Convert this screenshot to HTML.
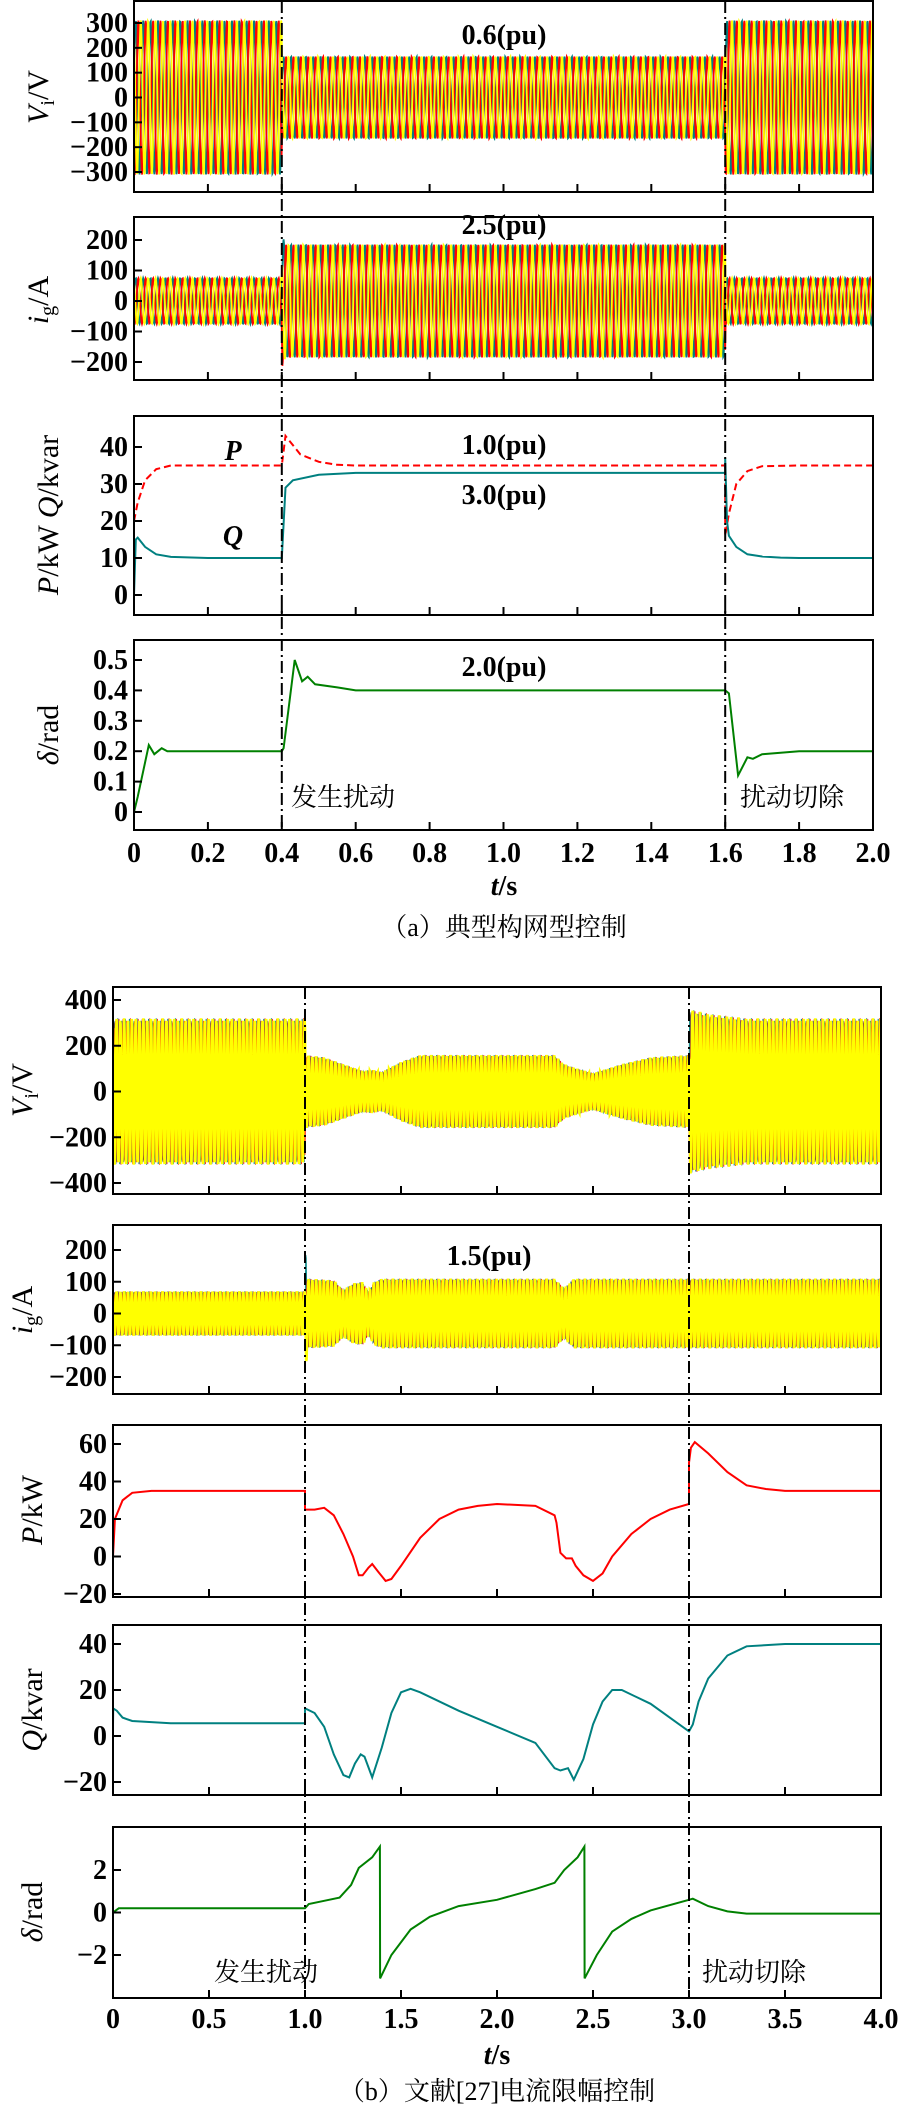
<!DOCTYPE html>
<html><head><meta charset="utf-8">
<style>
body{margin:0;background:#fff}
svg{display:block}
text{font-family:"Liberation Serif","Noto Serif CJK SC",serif;fill:#000}
.tk{font-size:28px;font-weight:bold}
.cn{font-family:"Liberation Serif","Noto Serif CJK SC",serif;font-size:26px}
</style></head><body>
<svg id="c" width="902" height="2107" viewBox="0 0 902 2107"></svg>
<script>
// ---- data (a) ----
const aViT=[0,0.4,0.4,1.6,1.6,2.0];
const aViA=[310,310,165,165,310,310];
const aIgT=[0,0.4,0.401,0.41,1.6,1.6,2.0];
const aIgA=[75,75,215,185,185,75,75];
const aPT=[0,0.01,0.03,0.06,0.1,0.4,0.4,0.41,0.45,0.5,0.55,0.6,1.6,1.6,1.61,1.63,1.66,1.7,1.8,2.0];
const aPV=[20,25,31,34,35,35,35,43,38,36,35.2,35,35,16,22,30,33.5,34.8,35,35];
const aQT=[0,0.005,0.01,0.03,0.06,0.1,0.2,0.4,0.4,0.41,0.43,0.5,0.6,1.6,1.6,1.605,1.61,1.63,1.66,1.7,1.75,1.8,2.0];
const aQV=[0,15,15.5,13,11,10.3,10,10,10,29,31,32.5,33,33,37,20,16,13,11,10.4,10.1,10,10];
const aDT=[0,0.01,0.04,0.055,0.075,0.09,0.4,0.405,0.435,0.455,0.47,0.49,0.55,0.6,1.6,1.61,1.635,1.66,1.675,1.7,1.8,2.0];
const aDV=[0,0.05,0.22,0.19,0.21,0.2,0.2,0.21,0.5,0.43,0.445,0.42,0.41,0.4,0.4,0.39,0.12,0.18,0.175,0.19,0.2,0.2];
// ---- data (b) ----
const bViT=[0,1.0,1.0,1.1,1.2,1.3,1.35,1.4,1.5,1.6,2.3,2.35,2.4,2.5,2.65,2.8,3.0,3.0,3.1,3.3,4.0];
const bViA=[320,320,160,150,120,90,95,85,130,160,160,120,105,80,120,150,160,360,340,320,320];
const bIgT=[0,1.0,1.0,1.005,1.01,1.15,1.2,1.25,1.3,1.33,1.36,1.4,2.3,2.35,2.4,3.0,4.0];
const bIgA=[70,70,70,215,110,105,75,95,100,70,100,110,110,80,110,110,110];
const bPT=[0,0.01,0.05,0.1,0.2,1.0,1.0,1.05,1.1,1.15,1.2,1.25,1.28,1.3,1.33,1.35,1.38,1.42,1.45,1.5,1.6,1.7,1.8,1.9,2.0,2.2,2.3,2.31,2.33,2.36,2.39,2.41,2.45,2.5,2.55,2.6,2.7,2.8,2.9,3.0,3.0,3.01,3.03,3.1,3.2,3.3,3.4,3.5,4.0];
const bPV=[0,20,30,34,35,35,25,25,26,22,12,0,-10,-10,-6,-4,-8,-13,-12,-5,10,20,25,27,28,27,22,18,2,-1,-1,-5,-10,-13,-9,0,12,20,25,28,50,58,61,55,45,38,36,35,35];
const bQT=[0,0.001,0.02,0.05,0.1,0.3,1.0,1.0,1.05,1.1,1.15,1.2,1.23,1.26,1.29,1.31,1.35,1.4,1.45,1.5,1.55,1.6,1.8,2.0,2.2,2.3,2.33,2.37,2.4,2.45,2.5,2.55,2.6,2.65,2.8,3.0,3.02,3.05,3.1,3.2,3.3,3.5,4.0];
const bQV=[5,12,11,8,6.5,5.5,5.5,12,10,4,-8,-17,-18,-12,-8,-9,-18,-5,10,19,20.5,19,11,4,-3,-14,-15,-14,-19,-10,5,15,20,20,14,2,5,15,25,35,39,40,40];
const bDT=[0,0.03,1.0,1.02,1.1,1.18,1.24,1.28,1.35,1.39,1.391,1.45,1.55,1.65,1.8,2.0,2.2,2.3,2.35,2.42,2.455,2.456,2.52,2.6,2.7,2.8,3.0,3.02,3.1,3.2,3.3,4.0];
const bDV=[0,0.2,0.2,0.4,0.55,0.7,1.3,2.1,2.6,3.1,-3.1,-2.0,-0.8,-0.2,0.3,0.6,1.1,1.4,2.0,2.6,3.1,-3.1,-2.0,-0.9,-0.3,0.1,0.6,0.65,0.3,0.05,-0.05,-0.05];
const aXTicks=["0","0.2","0.4","0.6","0.8","1.0","1.2","1.4","1.6","1.8","2.0"];
const bXTicks=["0","0.5","1.0","1.5","2.0","2.5","3.0","3.5","4.0"];

const svg=document.getElementById('c');
const NS='http://www.w3.org/2000/svg';
function mk(tag,at,parent){const e=document.createElementNS(NS,tag);for(const k in at)e.setAttribute(k,at[k]);(parent||svg).appendChild(e);return e;}
function interp(T,V,t){if(t<=T[0])return V[0];for(let i=1;i<T.length;i++){if(t<=T[i]){const d=T[i]-T[i-1];return d<=0?V[i]:V[i-1]+(V[i]-V[i-1])*(t-T[i-1])/d;}}return V[V.length-1];}

function panel(o){
  const g=mk('g',{});
  
  
  const X=t=>o.x0+(t-o.tmin)/(o.tmax-o.tmin)*(o.x1-o.x0);
  const Y=v=>o.yA+(v-o.vA)/(o.vB-o.vA)*(o.yB-o.yA);
  o.X=X;o.Y=Y;
  const clip='cl'+o.name;
  const cp=mk('clipPath',{id:clip},g);mk('rect',{x:o.x0,y:o.top,width:o.x1-o.x0,height:o.bot-o.top},cp);
  const dg=mk('g',{'clip-path':'url(#'+clip+')'},g);
  if(o.wave){
    const cols=o.cols;
    const ph=[0,-2*Math.PI/3,2*Math.PI/3];
    cols.forEach((c,k)=>{
      let d='';
      for(let px=o.x0;px<=o.x1;px+=0.4){
        const t=o.tmin+(px-o.x0)/(o.x1-o.x0)*(o.tmax-o.tmin);
        const a=interp(o.wave[0],o.wave[1],t);
        d+=(d?'L':'M')+px.toFixed(1)+' '+Y(a*Math.sin(2*Math.PI*50*t+ph[c.p])).toFixed(1);
      }
      const p=mk('path',{d:d,fill:'none',stroke:c.c,'stroke-width':c.w},dg);
      
      
    });
  }
  (o.lines||[]).forEach(L=>{
    const d=L.T.map((t,i)=>(i?'L':'M')+X(t).toFixed(1)+' '+Y(L.V[i]).toFixed(1)).join('');
    const p=mk('path',{d:d,fill:'none',stroke:L.c,'stroke-width':2,'stroke-dasharray':L.dash||'none'},dg);
    
    
  });
  mk('rect',{x:o.x0,y:o.top,width:o.x1-o.x0,height:o.bot-o.top,fill:'none',stroke:'#000','stroke-width':2},g);
  o.yt.forEach(v=>{
    mk('line',{x1:o.x0,x2:o.x0+8,y1:Y(v),y2:Y(v),stroke:'#000','stroke-width':2},g);
    const tx=mk('text',{x:o.x0-6,y:Y(v)+9,'text-anchor':'end',class:'tk'},g);
    tx.textContent=String(v).replace('-','\u2212');
    
    
  });
  o.xt.forEach(lbl=>{
    const t=parseFloat(lbl);
    mk('line',{x1:X(t),x2:X(t),y1:o.bot,y2:o.bot-8,stroke:'#000','stroke-width':2},g);
  });
  return o;
}
function vlines(ts,X,y0,y1){ts.forEach(t=>{const l=mk('line',{x1:X(t),x2:X(t),y1:y0,y2:y1,stroke:'#000','stroke-width':2,'stroke-dasharray':'12 4 2 4'});});}
function txt(s,x,y,cls,extra){const t=mk('text',Object.assign({x:x,y:y,class:cls||'tk'},extra||{}));t.innerHTML=s;return t;}
function ytitle(s,x,y){const t=mk('text',{x:0,y:0,transform:`translate(${x},${y}) rotate(-90)`,'text-anchor':'middle',style:'font-size:30px'});t.innerHTML=s;}

const aC=[{c:'#008080',p:0,w:1.8},{c:'#ff0000',p:1,w:1.8},{c:'#ffff00',p:2,w:1.8}];
const bC=[{c:'#008080',p:0,w:1},{c:'#ff0000',p:1,w:0.8},{c:'#ffff00',p:2,w:2.6}];
const A={x0:134,x1:873,tmin:0,tmax:2};
const a1=panel(Object.assign({name:'a-vi-panel',top:1,bot:192,yA:23,vA:300,yB:172,vB:-300,yt:[300,200,100,0,-100,-200,-300],xt:aXTicks,wave:[aViT,aViA],cols:aC},A));
const a2=panel(Object.assign({name:'a-ig-panel',top:217,bot:380,yA:240,vA:200,yB:362,vB:-200,yt:[200,100,0,-100,-200],xt:aXTicks,wave:[aIgT,aIgA],cols:aC},A));
const a3=panel(Object.assign({name:'a-pq-panel',top:416,bot:615,yA:447,vA:40,yB:595,vB:0,yt:[40,30,20,10,0],xt:aXTicks,lines:[{T:aPT,V:aPV,c:'#ff0000',dash:'7 4',name:'p-line'},{T:aQT,V:aQV,c:'#008080',name:'q-line'}]},A));
const a4=panel(Object.assign({name:'a-delta-panel',top:640,bot:830,yA:660,vA:0.5,yB:812,vB:0,yt:[0.5,0.4,0.3,0.2,0.1,0],xt:aXTicks,lines:[{T:aDT,V:aDV,c:'#008000',name:'delta-line'}]},A));
vlines([0.4,1.6],a1.X,1,830);
aXTicks.forEach(l=>txt(l,a1.X(parseFloat(l)),862,'tk',{'text-anchor':'middle'}));
txt('<tspan font-style="italic">t</tspan>/s',504,895,'tk',{'text-anchor':'middle'});
txt('（a）典型构网型控制',504,936,'cn',{'text-anchor':'middle'});
txt('0.6(pu)',504,44,'tk',{'text-anchor':'middle'});
txt('2.5(pu)',504,234,'tk',{'text-anchor':'middle'});
txt('1.0(pu)',504,454,'tk',{'text-anchor':'middle'});
txt('3.0(pu)',504,504,'tk',{'text-anchor':'middle'});
txt('<tspan font-style="italic">P</tspan>',233,460,'tk',{'text-anchor':'middle'});
txt('<tspan font-style="italic">Q</tspan>',233,545,'tk',{'text-anchor':'middle'});
txt('2.0(pu)',504,676,'tk',{'text-anchor':'middle'});
txt('发生扰动',291,806,'cn');
txt('扰动切除',740,806,'cn');
ytitle('<tspan font-style="italic">V</tspan><tspan font-size="20" dy="6">i</tspan><tspan dy="-6">/V</tspan>',48,97);
ytitle('<tspan font-style="italic">i</tspan><tspan font-size="20" dy="6">g</tspan><tspan dy="-6">/A</tspan>',48,300);
ytitle('<tspan font-style="italic">P</tspan>/kW  <tspan font-style="italic">Q</tspan>/kvar',58,515);
ytitle('<tspan font-style="italic">δ</tspan>/rad',58,735);

const B={x0:113,x1:881,tmin:0,tmax:4};
const b1=panel(Object.assign({name:'b-vi-panel',top:987,bot:1194,yA:1000,vA:400,yB:1183,vB:-400,yt:[400,200,0,-200,-400],xt:bXTicks,wave:[bViT,bViA],cols:bC},B));
const b2=panel(Object.assign({name:'b-ig-panel',top:1225,bot:1394,yA:1250,vA:200,yB:1377,vB:-200,yt:[200,100,0,-100,-200],xt:bXTicks,wave:[bIgT,bIgA],cols:bC},B));
const b3=panel(Object.assign({name:'b-p-panel',top:1425,bot:1597,yA:1444,vA:60,yB:1594,vB:-20,yt:[60,40,20,0,-20],xt:bXTicks,lines:[{T:bPT,V:bPV,c:'#ff0000',name:'p-line'}]},B));
const b4=panel(Object.assign({name:'b-q-panel',top:1625,bot:1795,yA:1644,vA:40,yB:1782,vB:-20,yt:[40,20,0,-20],xt:bXTicks,lines:[{T:bQT,V:bQV,c:'#008080',name:'q-line'}]},B));
const b5=panel(Object.assign({name:'b-delta-panel',top:1827,bot:1998,yA:1870,vA:2,yB:1955,vB:-2,yt:[2,0,-2],xt:bXTicks,lines:[{T:bDT,V:bDV,c:'#008000',name:'delta-line'}]},B));
vlines([1.0,3.0],b1.X,987,1998);
bXTicks.forEach(l=>txt(l,b1.X(parseFloat(l)),2028,'tk',{'text-anchor':'middle'}));
txt('<tspan font-style="italic">t</tspan>/s',497,2064,'tk',{'text-anchor':'middle'});
txt('（b）文献[27]电流限幅控制',497,2100,'cn',{'text-anchor':'middle'});
txt('1.5(pu)',489,1265,'tk',{'text-anchor':'middle'});
txt('发生扰动',214,1981,'cn');
txt('扰动切除',702,1981,'cn');
ytitle('<tspan font-style="italic">V</tspan><tspan font-size="20" dy="6">i</tspan><tspan dy="-6">/V</tspan>',32,1090);
ytitle('<tspan font-style="italic">i</tspan><tspan font-size="20" dy="6">g</tspan><tspan dy="-6">/A</tspan>',32,1310);
ytitle('<tspan font-style="italic">P</tspan>/kW',42,1510);
ytitle('<tspan font-style="italic">Q</tspan>/kvar',42,1710);
ytitle('<tspan font-style="italic">δ</tspan>/rad',42,1912);
</script>
</body></html>
